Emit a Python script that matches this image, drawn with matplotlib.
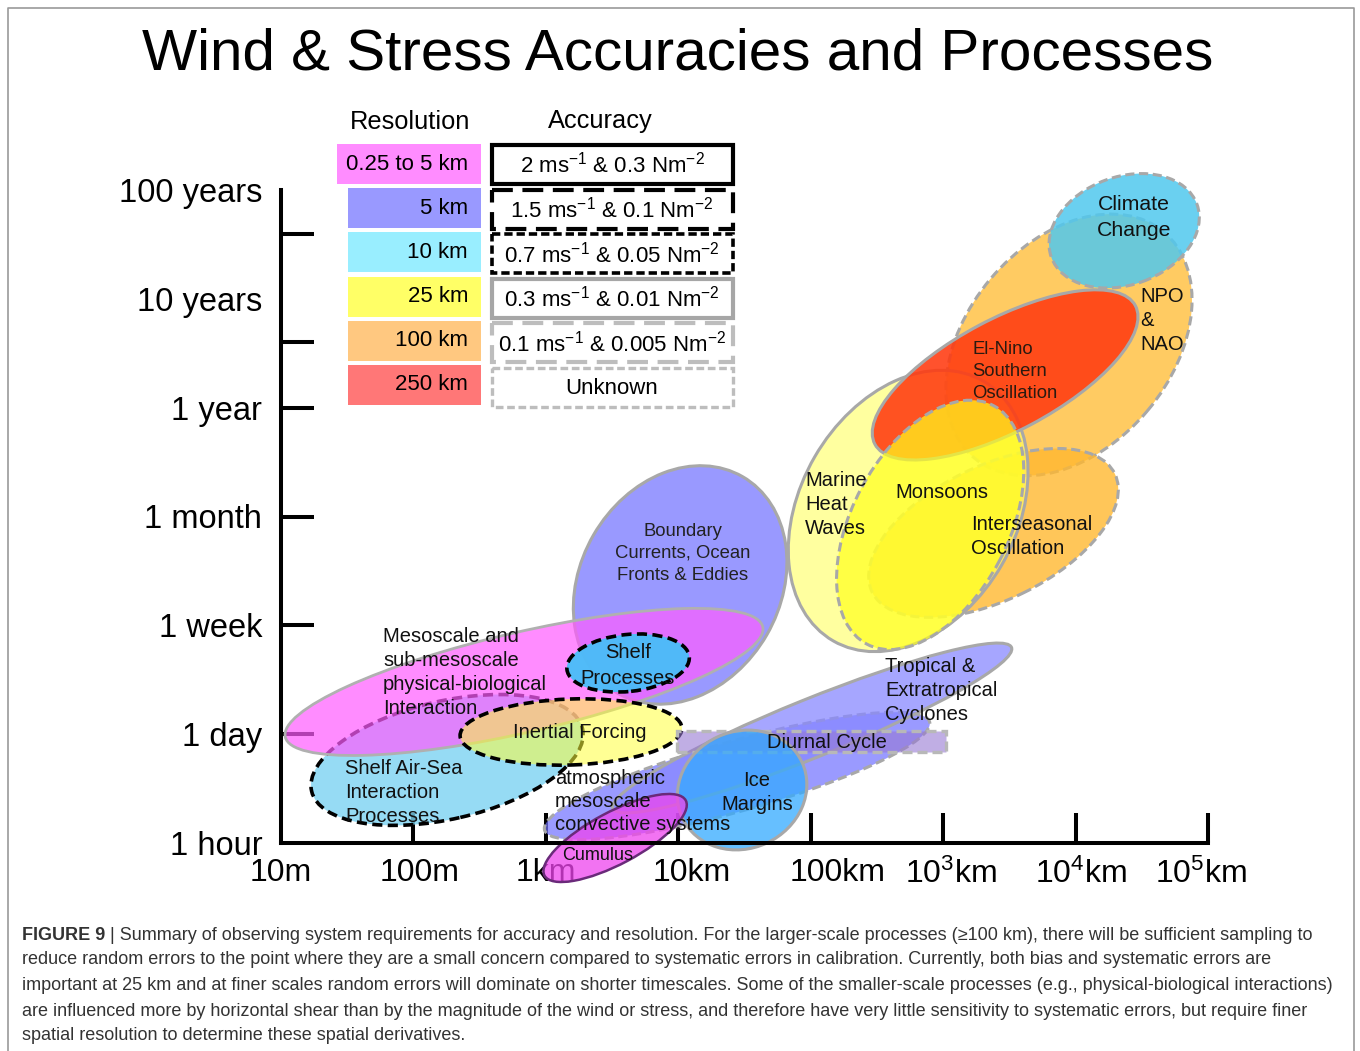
import matplotlib
matplotlib.use('Agg')
import matplotlib.pyplot as plt
from matplotlib.patches import Ellipse, Rectangle
from matplotlib.transforms import ScaledTranslation
from matplotlib.ticker import FixedLocator
from matplotlib.colors import to_rgba

plt.rcParams['font.family'] = ['Liberation Sans', 'DejaVu Sans']
plt.rcParams['mathtext.fontset'] = 'custom'
plt.rcParams['mathtext.rm'] = 'Liberation Sans'
plt.rcParams['mathtext.it'] = 'Liberation Sans:italic'
plt.rcParams['mathtext.bf'] = 'Liberation Sans:bold'

# ------------------------------------------------------------------ data
title = 'Wind & Stress Accuracies and Processes'

x_positions = [1, 2, 3, 4, 5, 6, 7, 8]          # log10(length / m)
x_labels = ['10m', '100m', '1km', '10km', '100km', '10$^3$km', '10$^4$km', '10$^5$km']
x_tick_marks = [2, 3, 4, 5, 6, 7, 8]
y_positions = [0, 1, 2, 3, 4, 5, 6]              # time-scale index
y_labels = ['1 hour', '1 day', '1 week', '1 month', '1 year', '10 years', '100 years']
y_tick_marks = [1, 2, 3, 4, 4.6, 5.6]

res_labels = ['0.25 to 5 km', '5 km', '10 km', '25 km', '100 km', '250 km']
res_colors = ['#FF8CFF', '#9999FF', '#99EEFF', '#FFFF66', '#FFC880', '#FF7777']
acc_labels = [r'2 ms$^{-1}$ & 0.3 Nm$^{-2}$',
              r'1.5 ms$^{-1}$ & 0.1 Nm$^{-2}$',
              r'0.7 ms$^{-1}$ & 0.05 Nm$^{-2}$',
              r'0.3 ms$^{-1}$ & 0.01 Nm$^{-2}$',
              r'0.1 ms$^{-1}$ & 0.005 Nm$^{-2}$',
              'Unknown']

# processes (drawing order): centre scale (log10 m) and centre time index
proc_names = ['Boundary Currents', 'Shelf Air-Sea', 'Mesoscale', 'Inertial Forcing',
              'Shelf Processes', 'Atmospheric MCS', 'Tropical Cyclones',
              'Ice Margins', 'Cumulus', 'NPO & NAO', 'Climate Change',
              'Interseasonal', 'Marine Heat Waves', 'ENSO', 'Monsoons']
proc_x = [4.014, 2.254, 2.835, 3.190, 3.621, 4.444, 5.011,
          4.482, 3.523, 6.950, 7.367, 6.380, 5.736, 6.468, 5.902]
proc_y = [2.371, 0.763, 1.480, 1.020, 1.654, 0.616, 1.057,
          0.487, 0.046, 4.577, 5.625, 2.849, 3.051, 4.301, 2.923]

diurnal_x = [3.99, 6.02]    # scale span (log10 m)
diurnal_y = 0.93            # time index

# ------------------------------------------------------------------ styles
GR = '#A8A8A8'
DASH_G = (0, (3, 1.5))
DASH_K = (0, (2.8, 1.5))
proc_geom = {  # width px, height px, angle
    'Boundary Currents': (250, 200, 60),
    'Shelf Air-Sea': (278, 118, 13),
    'Mesoscale': (490, 100, 13),
    'Inertial Forcing': (222, 66, 2),
    'Shelf Processes': (123, 57, 6),
    'Atmospheric MCS': (400, 70, 15.7),
    'Tropical Cyclones': (430, 58, 22),
    'Ice Margins': (132, 117, 25),
    'Cumulus': (160, 52, 28),
    'NPO & NAO': (295, 205, 50),
    'Climate Change': (155, 108, 20),
    'Interseasonal': (270, 134, 26),
    'Marine Heat Waves': (300, 216, 60),
    'ENSO': (295, 112, 28),
    'Monsoons': (270, 156, 62),
}
proc_style = {  # face, alpha, edge, linestyle, lw
    'Boundary Currents': ('#8080FF', .80, GR, '-', 2.2),
    'Shelf Air-Sea': ('#7CD3F2', .80, 'black', DASH_K, 2.6),
    'Mesoscale': ('#FF5CFF', .70, '#B0B0B0', '-', 2.0),
    'Inertial Forcing': ('#FFFF3C', .55, 'black', DASH_K, 2.6),
    'Shelf Processes': ('#48BEF8', .95, 'black', DASH_K, 2.6),
    'Atmospheric MCS': ('#7070FF', .70, GR, DASH_G, 2.2),
    'Tropical Cyclones': ('#8888FF', .75, GR, '-', 2.2),
    'Ice Margins': ('#33AAFF', .75, GR, '-', 2.2),
    'Cumulus': ('#EE44EE', .75, '#6A2A7A', '-', 1.8),
    'NPO & NAO': ('#FFC247', .85, GR, DASH_G, 2.2),
    'Climate Change': ('#50C8EE', .85, GR, DASH_G, 2.2),
    'Interseasonal': ('#FFB830', .80, GR, DASH_G, 2.2),
    'Marine Heat Waves': ('#FFFF64', .62, GR, '-', 2.2),
    'ENSO': ('#FF3A10', .88, GR, '-', 2.2),
    'Monsoons': ('#FFFF1E', .70, GR, DASH_G, 2.2),
}

W, H = 1360, 1051
fig = plt.figure(figsize=(W / 100, H / 100), dpi=100)
fig.patch.set_facecolor('white')

ax = fig.add_axes([281 / W, (H - 843) / H, 927 / W, 653 / H])
ax.set_facecolor('none')

for name, xc, yc in zip(proc_names, proc_x, proc_y):
    w, h, ang = proc_geom[name]
    fc, a, ec, ls, lw = proc_style[name]
    tr = fig.dpi_scale_trans + ScaledTranslation(xc, yc, ax.transData)
    e = Ellipse((0, 0), w / 100, h / 100, angle=ang, transform=tr,
                facecolor=to_rgba(fc, a), edgecolor=ec, linestyle=ls,
                linewidth=lw, clip_on=False, zorder=1)
    ax.add_patch(e)
    if name == 'Tropical Cyclones':
        dh = 21 / 108.8
        r = Rectangle((diurnal_x[0], diurnal_y - dh / 2), diurnal_x[1] - diurnal_x[0], dh,
                      facecolor=to_rgba('#9678D2', 0.6), edgecolor='#B8B8B8',
                      linestyle=(0, (3, 1.5)), linewidth=2.4, clip_on=False, zorder=1)
        ax.add_patch(r)

ax.set_xlim(1, 8)
ax.set_ylim(0, 6)
ax.set_axisbelow(True)
for s in ['top', 'right']:
    ax.spines[s].set_visible(False)
for s in ['left', 'bottom']:
    ax.spines[s].set_linewidth(2.9)
    ax.spines[s].set_zorder(10)
    ax.spines[s].set_capstyle('projecting')

ax.xaxis.remove_overlapping_locs = False
ax.yaxis.remove_overlapping_locs = False
ax.set_xticks(x_positions, x_labels)
ax.set_yticks(y_positions, y_labels)
ax.xaxis.set_minor_locator(FixedLocator(x_tick_marks))
ax.yaxis.set_minor_locator(FixedLocator(y_tick_marks))
ax.tick_params(axis='x', which='major', length=0, pad=11, labelsize=23)
ax.tick_params(axis='y', which='major', length=0, pad=13.5, labelsize=23.5)
ax.tick_params(axis='x', which='minor', direction='in', length=21.6, width=2.9)
ax.tick_params(axis='y', which='minor', direction='in', length=23.8, width=2.9)

# small horizontal nudges of the x tick labels (pixels), as in the original
x_label_nudge = [0, 6, 0, 13, 27, 8, 5, -7]
for tk, dx in zip(ax.xaxis.get_major_ticks(), x_label_nudge):
    tk.label1.set_transform(tk.label1.get_transform() +
                            ScaledTranslation(dx / 100, 0, fig.dpi_scale_trans))

# ------------------------------------------------------------------ overlay (pixel coords)
ov = fig.add_axes([0, 0, 1, 1], zorder=5)
ov.set_xlim(0, W)
ov.set_ylim(H, 0)
ov.axis('off')
ov.patch.set_alpha(0)

ov.text(678, 70, title, ha='center', va='baseline', fontsize=42)

# frame
ov.plot([8, 8, 1354, 1354], [H + 5, 8, 8, H + 5], color='#9A9A9A', lw=1.2, clip_on=False)

# legend
ov.text(410, 122, 'Resolution', ha='center', va='center', fontsize=18.3)
ov.text(600, 121, 'Accuracy', ha='center', va='center', fontsize=18.3)
acc_edges = ['black', 'black', 'black', '#A6A6A6', '#BDBDBD', '#BDBDBD']
acc_ls = ['-', (0, (5, 2.3)), (0, (2.3, 1.1)), '-', (0, (5, 2.3)), (0, (2.3, 1.1))]
acc_lw = [3.0, 3.0, 2.6, 3.0, 3.0, 2.4]
for i, (lab, col) in enumerate(zip(res_labels, res_colors)):
    top = 144 + i * 44.2
    x0 = 337 if i == 0 else 348
    ov.add_patch(Rectangle((x0, top), 481 - x0, 40, facecolor=col, edgecolor='none'))
    ov.text(468, top + 20, lab, ha='right', va='center', fontsize=16)
for i, lab in enumerate(acc_labels):
    top = 145 + i * 44.6
    ov.add_patch(Rectangle((492, top), 241, 39, facecolor='white',
                           edgecolor=acc_edges[i], linestyle=acc_ls[i], linewidth=acc_lw[i]))
    ov.text(612, top + 20, lab, ha='center', va='center', fontsize=16)

# process labels
def lab(x, y0, lines, dy=24, size=14.5, ha='left', color='#111111'):
    for k, t in enumerate(lines):
        ov.text(x, y0 + k * dy, t, ha=ha, va='center', fontsize=size, color=color, zorder=20)

lab(683, 532, ['Boundary', 'Currents, Ocean', 'Fronts & Eddies'], dy=21.5, size=13.3, ha='center', color='#222222')
lab(383, 637, ['Mesoscale and', 'sub-mesoscale', 'physical-biological', 'Interaction'])
lab(628, 653, ['Shelf', 'Processes'], dy=25, ha='center')
lab(580, 733, ['Inertial Forcing'], ha='center')
lab(345, 768, ['Shelf Air-Sea', 'Interaction', 'Processes'])
lab(555, 778, ['atmospheric', 'mesoscale', 'convective systems'], dy=23.5)
lab(598, 856, ['Cumulus'], size=13, ha='center')
lab(757, 781, ['Ice', 'Margins'], ha='center')
lab(827, 742, ['Diurnal Cycle'], ha='center')
lab(885, 666, ['Tropical &', 'Extratropical', 'Cyclones'])
lab(805, 481, ['Marine', 'Heat', 'Waves'])
lab(895, 492, ['Monsoons'])
lab(971, 525, ['Interseasonal', 'Oscillation'], dy=23)
lab(972, 350, ['El-Nino', 'Southern', 'Oscillation'], dy=21.5, size=13.3, color='#2a1a10')
lab(1140, 297, ['NPO', '&', 'NAO'], dy=23.5)
lab(1134, 204, ['Climate', 'Change'], dy=27, size=15.3, ha='center')

# caption
cap_lines = [
    ' | Summary of observing system requirements for accuracy and resolution. For the larger-scale processes (\u2265100 km), there will be sufficient sampling to',
    'reduce random errors to the point where they are a small concern compared to systematic errors in calibration. Currently, both bias and systematic errors are',
    'important at 25 km and at finer scales random errors will dominate on shorter timescales. Some of the smaller-scale processes (e.g., physical-biological interactions)',
    'are influenced more by horizontal shear than by the magnitude of the wind or stress, and therefore have very little sensitivity to systematic errors, but require finer',
    'spatial resolution to determine these spatial derivatives.',
]
cap_y = [935, 960, 985, 1011, 1036]
cap_end = [1314, 1273, 1327, 1301, 457]
capcol = '#333333'
renderer = fig.canvas.get_renderer()
base = 12.0
tb = ov.text(22, cap_y[0], 'FIGURE 9', fontsize=base, fontweight='bold', ha='left', va='center', color=capcol)
ratios = []
tmp = []
for i, t in enumerate(cap_lines):
    tx = ov.text(22, cap_y[i], t, fontsize=base, ha='left', va='center', color=capcol)
    tmp.append(tx)
    wpx = tx.get_window_extent(renderer).width
    if i == 0:
        wpx += tb.get_window_extent(renderer).width
    if i < 4:
        ratios.append((cap_end[i] - 22) / wpx)
scale = sum(ratios) / len(ratios)
size = base * scale
for tx in tmp:
    tx.remove()
tb.set_fontsize(size)
bw = tb.get_window_extent(renderer).width
for i, t in enumerate(cap_lines):
    x = 22 + (bw if i == 0 else 0)
    ov.text(x, cap_y[i], t, fontsize=size, ha='left', va='center', color=capcol)

fig.savefig('out.png', dpi=100, facecolor='white')
